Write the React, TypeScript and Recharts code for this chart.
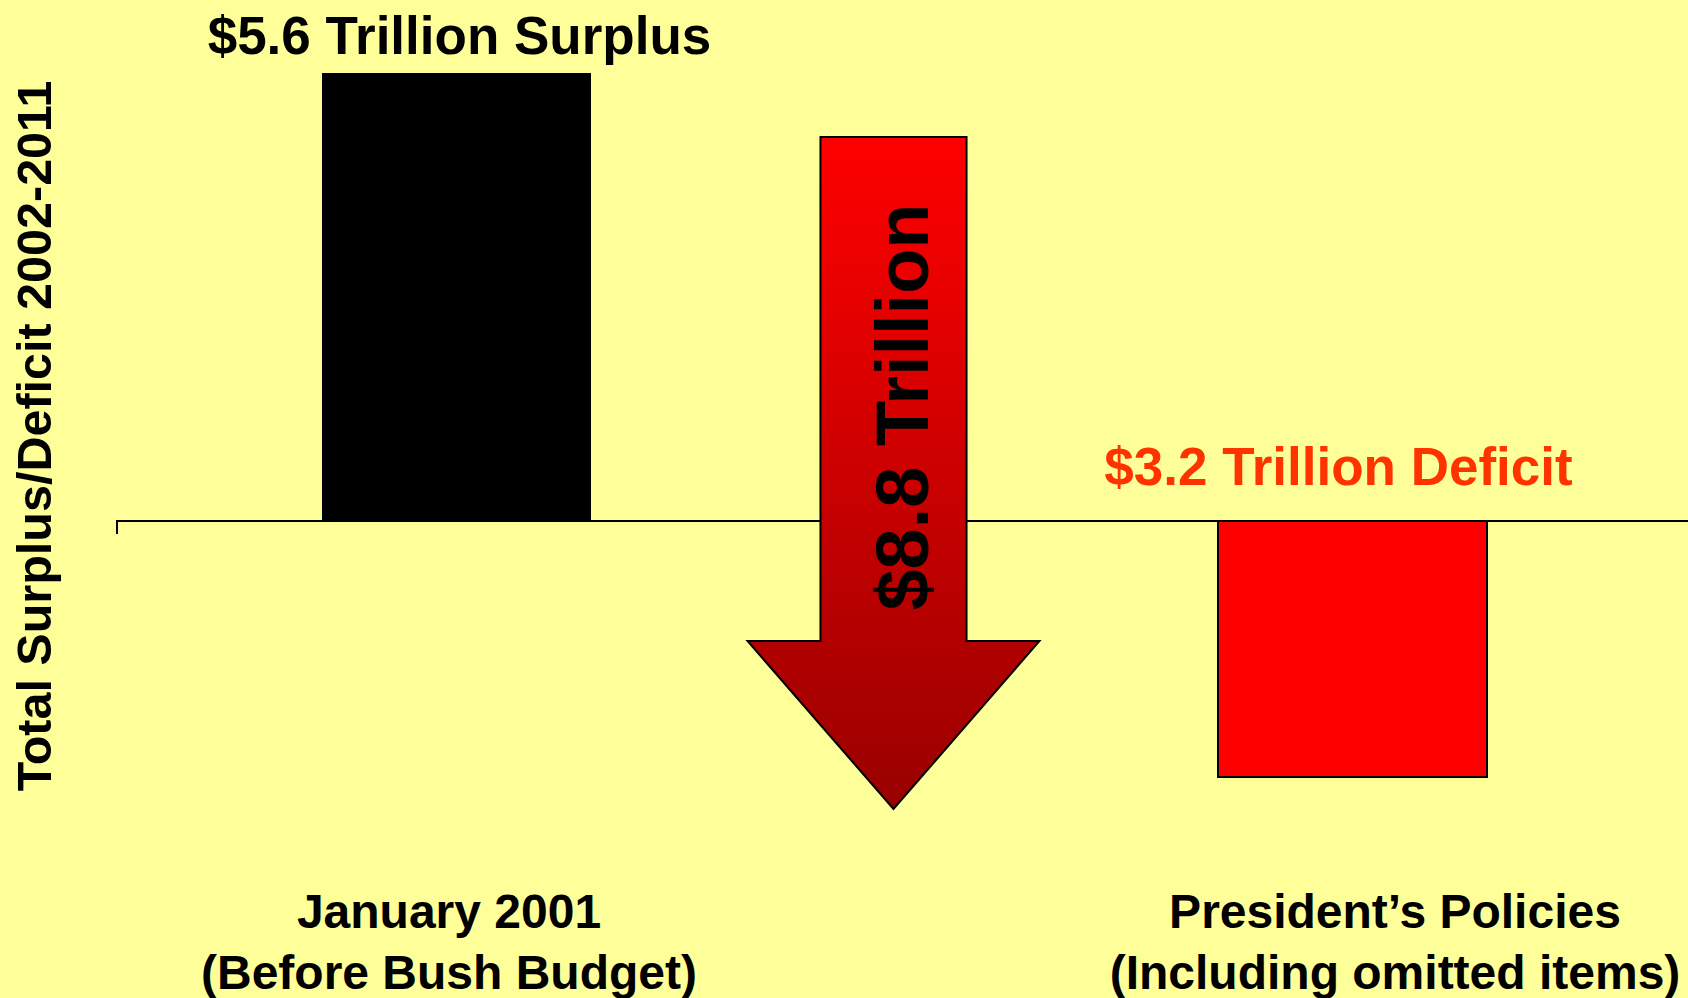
import React from "react";
import { BarChart, Bar, XAxis, YAxis, ReferenceLine, LabelList } from "recharts";

// categories along the bottom
const categories = ["jan2001", "change", "president"];
const categoryLine1 = ["January 2001", "", "President\u2019s Policies"];
const categoryLine2 = ["(Before Bush Budget)", "", "(Including omitted items)"];

// total surplus (+) / deficit (-), trillions of dollars, 2002-2011
const surplusDeficit = [5.6, null, -3.2];
// the arrow between the two bars runs from its top to its tip
const arrowRange: [number, number] = [-3.6, 4.8];

const barLabels = ["$5.6 Trillion Surplus", "$8.8 Trillion", "$3.2 Trillion Deficit"];

const data = categories.map((category, i) => ({
  category,
  value: i === 1 ? arrowRange : surplusDeficit[i],
  label: barLabels[i],
  line1: categoryLine1[i],
  line2: categoryLine2[i],
}));

const FONT = "'Liberation Sans', Arial, Helvetica, sans-serif";
const BG = "#FFFF99";

const BarShape = (props: any) => {
  const { x, y, width, height, payload } = props;
  const top = Math.min(y, y + height);
  const bottom = Math.max(y, y + height);
  if (payload.category === "change") {
    const cx = x + width / 2 - 11;
    const shaft = width * 0.543;
    const head = width * 1.085;
    const headStart = top + (bottom - top) * 0.75;
    const pts = [
      [cx - shaft / 2, top],
      [cx + shaft / 2, top],
      [cx + shaft / 2, headStart],
      [cx + head / 2, headStart],
      [cx, bottom],
      [cx - head / 2, headStart],
      [cx - shaft / 2, headStart],
    ]
      .map((p) => p.join(","))
      .join(" ");
    return (
      <g>
        <defs>
          <linearGradient id="arrowFill" x1="0" y1="0" x2="0" y2="1">
            <stop offset="0%" stopColor="#FF0000" />
            <stop offset="100%" stopColor="#990000" />
          </linearGradient>
        </defs>
        <polygon points={pts} fill="url(#arrowFill)" stroke="#000" strokeWidth={2} />
      </g>
    );
  }
  if (payload.category === "president") {
    return <rect x={x} y={top} width={width} height={bottom - top} fill="#FF0000" stroke="#000" strokeWidth={2} />;
  }
  return <rect x={x} y={top} width={width} height={bottom - top} fill="#000000" />;
};

const BarLabel = (props: any) => {
  const { x, y, width, height, index, value } = props;
  const top = Math.min(y, y + height);
  const cx = x + width / 2;
  if (index === 0) {
    return (
      <text x={cx + 3} y={top - 19} textAnchor="middle" fontFamily={FONT} fontWeight="bold" fontSize={53} fill="#000">
        {value}
      </text>
    );
  }
  if (index === 1) {
    const tx = cx - 11 + 34;
    const ty = top + 270;
    return (
      <text x={tx} y={ty} transform={`rotate(-90, ${tx}, ${ty})`} textAnchor="middle" fontFamily={FONT} fontWeight="bold" fontSize={74} fill="#000">
        {value}
      </text>
    );
  }
  return (
    <text x={cx - 14} y={top - 36} textAnchor="middle" fontFamily={FONT} fontWeight="bold" fontSize={53} fill="#FF3300">
      {value}
    </text>
  );
};

const tickShift = [-7, 0, 43];

const CategoryTick = (props: any) => {
  const { x, y, index } = props;
  const d = data[index];
  if (!d || !d.line1) return null;
  const tx = x + tickShift[index];
  return (
    <g>
      <text x={tx} y={y + 79} textAnchor="middle" fontFamily={FONT} fontWeight="bold" fontSize={48} fill="#000">
        {d.line1}
      </text>
      <text x={tx} y={y + 140} textAnchor="middle" fontFamily={FONT} fontWeight="bold" fontSize={48} fill="#000">
        {d.line2}
      </text>
    </g>
  );
};

const AxisTitle = (props: any) => {
  const vb = props.viewBox || { x: 0, y: 41, width: 116, height: 800 };
  const tx = 51;
  const ty = vb.y + vb.height / 2 - 5;
  return (
    <text x={tx} y={ty} transform={`rotate(-90, ${tx}, ${ty})`} textAnchor="middle" fontFamily={FONT} fontWeight="bold" fontSize={48.5} fill="#000">
      Total Surplus/Deficit 2002-2011
    </text>
  );
};

const ZeroLine = (props: any) => {
  const { x1, y1, x2, y2 } = props;
  return (
    <g>
      <line x1={x1} y1={y1} x2={x2} y2={y2} stroke="#000" strokeWidth={2} />
      <line x1={x1 + 1} y1={y1} x2={x1 + 1} y2={y1 + 13} stroke="#000" strokeWidth={2} />
    </g>
  );
};

export default function App() {
  return (
    <div style={{ position: "fixed", left: 0, top: 0, width: 1688, height: 998, background: BG }}>
      <BarChart width={1688} height={998} data={data} margin={{ top: 41, right: 0, bottom: 0, left: 0 }} barSize={269}>
        <XAxis
          dataKey="category"
          axisLine={false}
          tickLine={false}
          height={157}
          interval={0}
          padding={{ left: 116, right: 112 }}
          tick={<CategoryTick />}
        />
        <YAxis
          type="number"
          domain={[-4, 6]}
          width={116}
          axisLine={false}
          tickLine={false}
          tick={false}
          label={<AxisTitle />}
        />
        <ReferenceLine y={0} shape={<ZeroLine />} zIndex={100} />
        <Bar dataKey="value" shape={<BarShape />} isAnimationActive={false}>
          <LabelList dataKey="label" content={<BarLabel />} />
        </Bar>
      </BarChart>
    </div>
  );
}
